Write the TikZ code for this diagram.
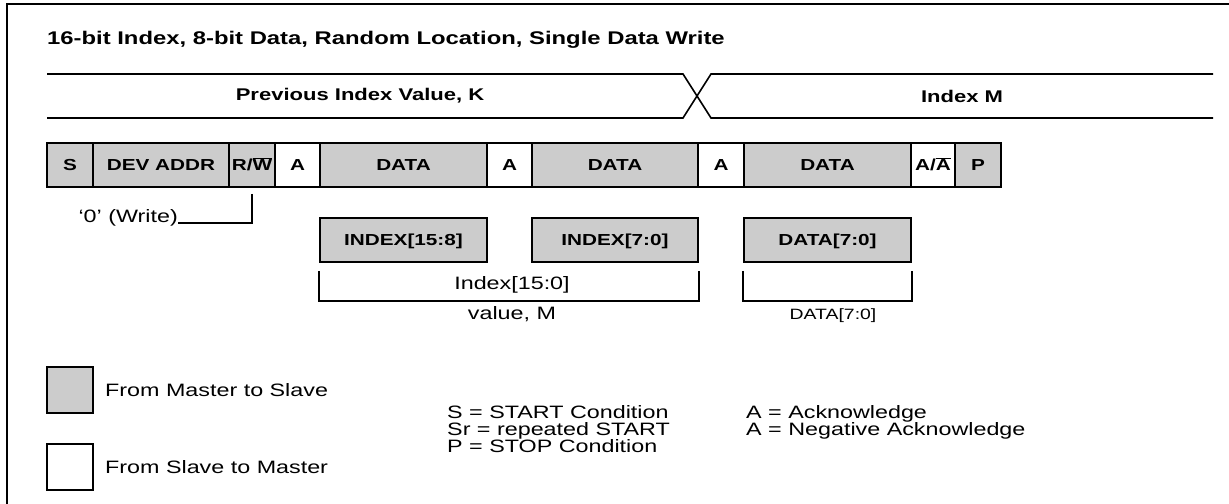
\documentclass[tikz,border=0pt]{standalone}
\usepackage{fontspec}
\setmainfont{Liberation Sans}[FakeStretch=1.3]
\definecolor{cellgray}{RGB}{204,204,204}
\newcommand{\fs}[1]{\fontsize{#1}{#1}\selectfont}
\begin{document}
\begin{tikzpicture}[x=1bp,y=-1bp,
  cell/.style={draw, line width=2bp, fill=cellgray, minimum height=44bp,
    inner sep=0pt, text height=11.5bp, text depth=0pt, font=\bfseries\fs{16}},
  ack/.style={cell, fill=white},
  tline/.style={line width=1.6bp},
  bline/.style={line width=1.8bp},
  lbl/.style={inner sep=0pt, font=\fs{18}},
  tlabel/.style={inner sep=0pt, font=\bfseries\fs{17}},
  legbox/.style={draw, line width=2bp, minimum size=46bp, inner sep=0pt}]
\useasboundingbox (0,0) rectangle (1229,504);
% frame
\draw[line width=2bp] (7,504) -- (7,4) -- (1229,4);
% title
\node[anchor=base west, inner sep=0pt, font=\bfseries\fs{18.4}] (title) at (47,45)
  {16-bit Index, 8-bit Data, Random Location, Single Data Write};
% timing lines
\draw[tline] (47,74) -- (683,74) -- (711,118) -- (1213,118);
\draw[tline] (47,118) -- (683,118) -- (711,74) -- (1213,74);
\node[tlabel] (prev) at (360,96) {Previous Index Value, K};
\node[tlabel] (idxm) at (962,96) {Index M};
% packet row
\node[cell, minimum width=46bp]  (s)  at (70,165)    {S};
\node[cell, minimum width=136bp] (dev) at (161,165)  {DEV ADDR};
\node[cell, minimum width=46bp]  (rw) at (252,165)   {R/$\overline{\hbox{W}}$};
\node[ack,  minimum width=45bp]  (a1) at (297.5,165) {A};
\node[cell, minimum width=167bp] (d1) at (403.5,165) {DATA};
\node[ack,  minimum width=45bp]  (a2) at (509.5,165) {A};
\node[cell, minimum width=166bp] (d2) at (615,165)   {DATA};
\node[ack,  minimum width=46bp]  (a3) at (721,165)   {A};
\node[cell, minimum width=167bp] (d3) at (827.5,165) {DATA};
\node[ack,  minimum width=44bp]  (aa) at (933,165)   {A/$\overline{\hbox{A}}$};
\node[cell, minimum width=46bp]  (p)  at (978,165)   {P};
% write annotation
\node[lbl, anchor=base east] (wr) at (178,223) {‘0’ (Write)};
\draw[bline] ([yshift=-6bp]rw.south) |- (wr.base east);
% field boxes
\node[cell, minimum width=167bp] (i1) at (403.5,240) {INDEX[15:8]};
\node[cell, minimum width=166bp] (i2) at (615,240)   {INDEX[7:0]};
\node[cell, minimum width=167bp] (i3) at (827.5,240) {DATA[7:0]};
% brackets
\draw[bline] ([yshift=-8bp]i1.south west) -- ++(0,30) -| ([yshift=-8bp]i2.south east);
\draw[bline] ([yshift=-8bp]i3.south west) -- ++(0,30) -| ([yshift=-8bp]i3.south east);
\node[lbl] (ix) at (512,285) {Index[15:0]};
\node[lbl] (vm) at (512,314) {value, M};
\node[inner sep=0pt, font=\fs{15}] (dl) at (833,316) {DATA[7:0]};
% legend
\node[legbox, fill=cellgray] (lm) at (70,390) {};
\node[lbl, anchor=west] (lmt) at (105,390) {From Master to Slave};
\node[legbox, fill=white] (ls) at (70,467) {};
\node[lbl, anchor=west] (lst) at (105,467) {From Slave to Master};
\node[lbl, anchor=base west] (k1) at (447,418.5) {S = START Condition};
\node[lbl, anchor=base west] (k2) at (447,435.5) {Sr = repeated START};
\node[lbl, anchor=base west] (k3) at (447,452.5) {P = STOP Condition};
\node[lbl, anchor=base west] (k4) at (746,418.5) {A = Acknowledge};
\node[lbl, anchor=base west] (k5) at (746,435.5) {A = Negative Acknowledge};
\end{tikzpicture}
\end{document}
